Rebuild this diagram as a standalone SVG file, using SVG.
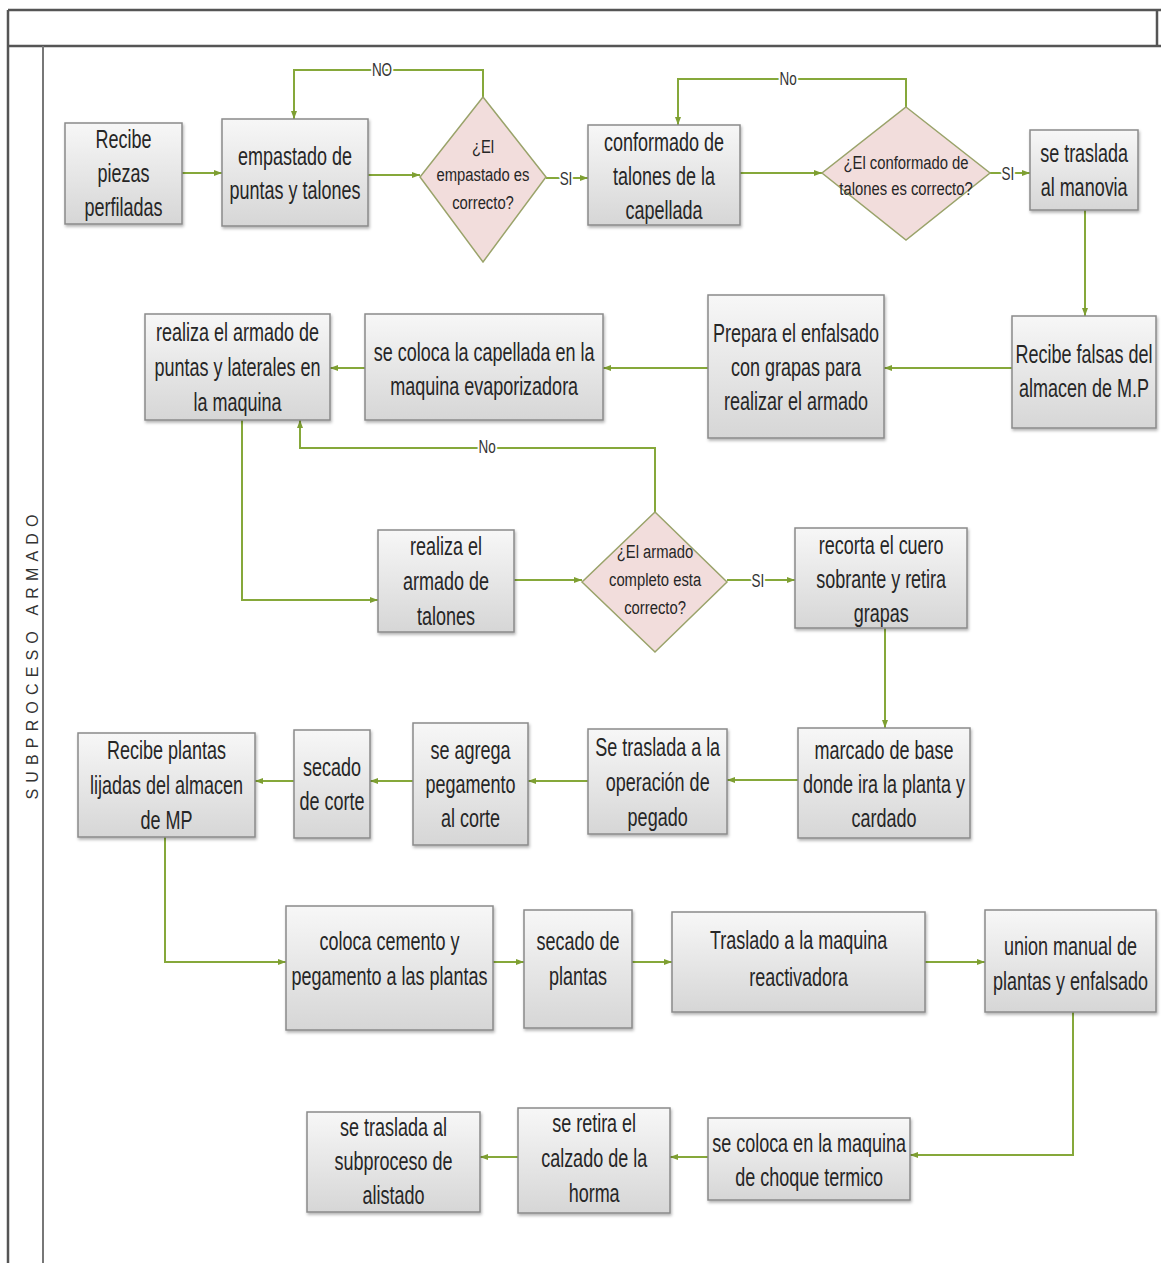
<svg xmlns="http://www.w3.org/2000/svg" width="1161" height="1263" viewBox="0 0 1161 1263">
  <defs>
    <linearGradient id="boxFill" x1="0" y1="0" x2="0" y2="1">
      <stop offset="0" stop-color="#f7f7f7"/>
      <stop offset="1" stop-color="#d6d6d6"/>
    </linearGradient>
    <filter id="shadow" x="-10%" y="-10%" width="130%" height="130%">
      <feDropShadow dx="1" dy="2" stdDeviation="1.5" flood-color="#000" flood-opacity="0.3"/>
    </filter>
    <marker id="arrow" viewBox="0 0 8 6" refX="8" refY="3" markerWidth="8" markerHeight="6" markerUnits="userSpaceOnUse" orient="auto">
      <path d="M0,0 L8,3 L0,6 z" fill="#7e9f32"/>
    </marker>
    <style>
      .frame { fill: none; stroke: #555; stroke-width: 2.5; }
      .lane { fill: none; stroke: #777; stroke-width: 2; }
      .box { fill: url(#boxFill); stroke: #8a8a8a; stroke-width: 1.5; filter: url(#shadow); }
      .dec { fill: #f2dddc; stroke: #9aa36a; stroke-width: 1.5; }
      /* tall, condensed lettering: Arial metrics squeezed horizontally about each label's centre */
      .t, .td, .lbl { font-family: "Liberation Sans", Arial, sans-serif; fill: #262626; text-anchor: middle;
                      transform-box: fill-box; transform-origin: center; }
      .t { font-size: 25px; transform: scaleX(0.72); }
      .td { font-size: 19px; transform: scaleX(0.78); }
      .lbl { font-size: 18px; fill: #333; stroke: #fff; stroke-width: 5; paint-order: stroke; transform: scaleX(0.75); }
      .conn path { fill: none; stroke: #86a83a; stroke-width: 2; }
      .laneT { font-family: "Liberation Sans", Arial, sans-serif; font-size: 16px; fill: #333; text-anchor: middle; }
    </style>
  </defs>

  <rect width="1161" height="1263" fill="#fff"/>

  <!-- pool frame -->
  <g id="pool">
    <path class="frame" d="M8,10 H1161 M8,46 H1161 M8,10 V1263 M1157,10 V46"/>
    <path class="lane" d="M43,46 V1263"/>
    <text class="laneT" transform="translate(38,657) rotate(-90)" textLength="285" lengthAdjust="spacing">SUBPROCESO ARMADO</text>
  </g>

  <!-- connectors -->
  <g id="connectors" class="conn">
    <path d="M182,173 H222" marker-end="url(#arrow)"/>
    <path d="M368,175 H420" marker-end="url(#arrow)"/>
    <path d="M483,97 V70 H294 V119" marker-end="url(#arrow)"/>
    <path d="M546,178 H588" marker-end="url(#arrow)"/>
    <path d="M740,173 H822" marker-end="url(#arrow)"/>
    <path d="M906,107 V79 H678 V125" marker-end="url(#arrow)"/>
    <path d="M990,173 H1030" marker-end="url(#arrow)"/>
    <path d="M1085,210 V316" marker-end="url(#arrow)"/>
    <path d="M1012,368 H884" marker-end="url(#arrow)"/>
    <path d="M708,368 H603" marker-end="url(#arrow)"/>
    <path d="M365,368 H330" marker-end="url(#arrow)"/>
    <path d="M655,512 V448 H300 V420" marker-end="url(#arrow)"/>
    <path d="M242,420 V600 H378" marker-end="url(#arrow)"/>
    <path d="M514,580 H582" marker-end="url(#arrow)"/>
    <path d="M727,580 H795" marker-end="url(#arrow)"/>
    <path d="M885,628 V728" marker-end="url(#arrow)"/>
    <path d="M798,780 H727" marker-end="url(#arrow)"/>
    <path d="M588,781 H528" marker-end="url(#arrow)"/>
    <path d="M413,781 H370" marker-end="url(#arrow)"/>
    <path d="M294,781 H255" marker-end="url(#arrow)"/>
    <path d="M165,837 V962 H286" marker-end="url(#arrow)"/>
    <path d="M493,962 H524" marker-end="url(#arrow)"/>
    <path d="M632,962 H672" marker-end="url(#arrow)"/>
    <path d="M925,962 H985" marker-end="url(#arrow)"/>
    <path d="M1073,1012 V1155 H910" marker-end="url(#arrow)"/>
    <path d="M708,1157 H670" marker-end="url(#arrow)"/>
    <path d="M518,1157 H480" marker-end="url(#arrow)"/>
    <text class="lbl" x="382" y="76">NO</text>
    <text class="lbl" x="566" y="185">SI</text>
    <text class="lbl" x="788" y="85">No</text>
    <text class="lbl" x="1008" y="180">SI</text>
    <text class="lbl" x="487" y="453">No</text>
    <text class="lbl" x="758" y="587">SI</text>
  </g>

  <!-- process steps and decisions -->
  <g id="n1"><rect class="box" x="65" y="123" width="117" height="101"/>
    <text class="t"><tspan x="123.5" y="148">Recibe</tspan><tspan x="123.5" y="182">piezas</tspan><tspan x="123.5" y="216">perfiladas</tspan></text></g>
  <g id="n2"><rect class="box" x="222" y="119" width="146" height="107"/>
    <text class="t"><tspan x="295" y="165">empastado de</tspan><tspan x="295" y="199">puntas y talones</tspan></text></g>
  <g id="d1"><polygon class="dec" points="483,97 546,177 483,262 420,177"/>
    <text class="td"><tspan x="483" y="153">¿El</tspan><tspan x="483" y="181">empastado es</tspan><tspan x="483" y="209">correcto?</tspan></text></g>
  <g id="n3"><rect class="box" x="588" y="125" width="152" height="100"/>
    <text class="t"><tspan x="664" y="151">conformado de</tspan><tspan x="664" y="185">talones de la</tspan><tspan x="664" y="219">capellada</tspan></text></g>
  <g id="d2"><polygon class="dec" points="906,107 990,173 906,240 822,173"/>
    <text class="td"><tspan x="906" y="169">¿El  conformado de</tspan><tspan x="906" y="195">talones es correcto?</tspan></text></g>
  <g id="n4"><rect class="box" x="1030" y="130" width="108" height="80"/>
    <text class="t"><tspan x="1084" y="162">se traslada</tspan><tspan x="1084" y="196">al manovia</tspan></text></g>
  <g id="n5"><rect class="box" x="1012" y="316" width="144" height="112"/>
    <text class="t"><tspan x="1084" y="363">Recibe falsas del</tspan><tspan x="1084" y="397">almacen de M.P</tspan></text></g>
  <g id="n6"><rect class="box" x="708" y="295" width="176" height="143"/>
    <text class="t"><tspan x="796" y="342">Prepara el enfalsado</tspan><tspan x="796" y="376">con grapas para</tspan><tspan x="796" y="410">realizar el armado</tspan></text></g>
  <g id="n7"><rect class="box" x="365" y="314" width="238" height="106"/>
    <text class="t"><tspan x="484" y="361">se coloca la capellada en la</tspan><tspan x="484" y="395">maquina evaporizadora</tspan></text></g>
  <g id="n8"><rect class="box" x="145" y="314" width="185" height="106"/>
    <text class="t"><tspan x="237.5" y="341">realiza el armado de</tspan><tspan x="237.5" y="376">puntas y laterales en</tspan><tspan x="237.5" y="411">la maquina</tspan></text></g>
  <g id="n9"><rect class="box" x="378" y="530" width="136" height="102"/>
    <text class="t"><tspan x="446" y="555">realiza el</tspan><tspan x="446" y="590">armado de</tspan><tspan x="446" y="625">talones</tspan></text></g>
  <g id="d3"><polygon class="dec" points="655,512 727,582 655,652 582,582"/>
    <text class="td"><tspan x="655" y="558">¿El armado</tspan><tspan x="655" y="586">completo esta</tspan><tspan x="655" y="614">correcto?</tspan></text></g>
  <g id="n10"><rect class="box" x="795" y="528" width="172" height="100"/>
    <text class="t"><tspan x="881" y="554">recorta el cuero</tspan><tspan x="881" y="588">sobrante y retira</tspan><tspan x="881" y="622">grapas</tspan></text></g>
  <g id="n11"><rect class="box" x="798" y="728" width="172" height="110"/>
    <text class="t"><tspan x="884" y="759">marcado de base</tspan><tspan x="884" y="793">donde ira la planta y</tspan><tspan x="884" y="827">cardado</tspan></text></g>
  <g id="n12"><rect class="box" x="588" y="729" width="139" height="105"/>
    <text class="t"><tspan x="657.5" y="756">Se traslada a la</tspan><tspan x="657.5" y="791">operación de</tspan><tspan x="657.5" y="826">pegado</tspan></text></g>
  <g id="n13"><rect class="box" x="413" y="723" width="115" height="122"/>
    <text class="t"><tspan x="470.5" y="759">se agrega</tspan><tspan x="470.5" y="793">pegamento</tspan><tspan x="470.5" y="827">al corte</tspan></text></g>
  <g id="n14"><rect class="box" x="294" y="730" width="76" height="108"/>
    <text class="t"><tspan x="332" y="776">secado</tspan><tspan x="332" y="810">de corte</tspan></text></g>
  <g id="n15"><rect class="box" x="78" y="733" width="177" height="104"/>
    <text class="t"><tspan x="166.5" y="759">Recibe plantas</tspan><tspan x="166.5" y="794">lijadas del almacen</tspan><tspan x="166.5" y="829">de MP</tspan></text></g>
  <g id="n16"><rect class="box" x="286" y="906" width="207" height="124"/>
    <text class="t"><tspan x="389.5" y="950">coloca cemento y</tspan><tspan x="389.5" y="985">pegamento a las plantas</tspan></text></g>
  <g id="n17"><rect class="box" x="524" y="910" width="108" height="118"/>
    <text class="t"><tspan x="578" y="950">secado de</tspan><tspan x="578" y="985">plantas</tspan></text></g>
  <g id="n18"><rect class="box" x="672" y="912" width="253" height="100"/>
    <text class="t"><tspan x="798.5" y="949">Traslado a la maquina</tspan><tspan x="798.5" y="986">reactivadora</tspan></text></g>
  <g id="n19"><rect class="box" x="985" y="910" width="171" height="102"/>
    <text class="t"><tspan x="1070.5" y="955">union manual de</tspan><tspan x="1070.5" y="990">plantas y enfalsado</tspan></text></g>
  <g id="n20"><rect class="box" x="708" y="1118" width="202" height="82"/>
    <text class="t"><tspan x="809" y="1152">se coloca en la maquina</tspan><tspan x="809" y="1186">de choque termico</tspan></text></g>
  <g id="n21"><rect class="box" x="518" y="1108" width="152" height="105"/>
    <text class="t"><tspan x="594" y="1132">se retira el</tspan><tspan x="594" y="1167">calzado de la</tspan><tspan x="594" y="1202">horma</tspan></text></g>
  <g id="n22"><rect class="box" x="307" y="1112" width="173" height="100"/>
    <text class="t"><tspan x="393.5" y="1136">se traslada al</tspan><tspan x="393.5" y="1170">subproceso de</tspan><tspan x="393.5" y="1204">alistado</tspan></text></g>
</svg>
